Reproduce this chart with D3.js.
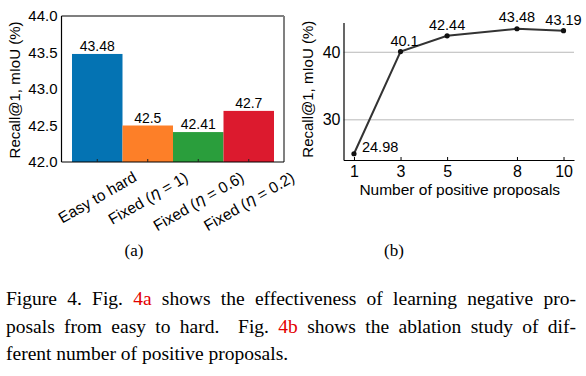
<!DOCTYPE html>
<html>
<head>
<meta charset="utf-8">
<script src="https://cdn.jsdelivr.net/npm/d3@7"></script>
<style>
  body { margin: 0; background: #fff; }
  svg { display: block; }
  text { font-family: "Liberation Sans", Arial, sans-serif; fill: #000; }
  .cap { font-family: "Liberation Serif", "Times New Roman", serif; }
</style>
</head>
<body>
<script>
// chart (a) data
var categories = ["Easy to hard", "Fixed (η = 1)", "Fixed (η = 0.6)", "Fixed (η = 0.2)"];
var barValues = [43.48, 42.5, 42.41, 42.7];
var barColors = ["#0473b3", "#fd7f28", "#2a9e3c", "#dc1a2e"];
var barTicks = [42.0, 42.5, 43.0, 43.5, 44.0];

// chart (b) data
var proposals = [1, 3, 5, 8, 10];
var recall = [24.98, 40.1, 42.44, 43.48, 43.19];
var lineTicks = [30, 40];

var W = 586, H = 376;
var svg = d3.select("body").append("svg")
    .attr("width", W)
    .attr("height", H);

// ---------- (a) bar chart ----------
var boxA = {left: 61.5, right: 284, top: 16, bottom: 162};

var x = d3.scaleBand()
  .domain(categories)
  .range([72, 274])
  .padding(0);

var y = d3.scaleLinear()
  .domain([42, 44])
  .range([boxA.bottom, boxA.top]);

var gA = svg.append("g");

gA.selectAll("rect.bar")
  .data(barValues)
  .enter()
  .append("rect")
    .attr("class", "bar")
    .attr("x", function(d, i) { return x(categories[i]); })
    .attr("y", function(d) { return y(d); })
    .attr("width", x.bandwidth())
    .attr("height", function(d) { return y(42) - y(d); })
    .style("fill", function(d, i) { return barColors[i]; });

// value labels
gA.selectAll("text.val")
  .data(barValues)
  .enter()
  .append("text")
    .attr("x", function(d, i) { return x(categories[i]) + x.bandwidth() / 2; })
    .attr("y", function(d) { return y(d) - 3; })
    .attr("text-anchor", "middle")
    .style("font-size", "14px")
    .text(function(d) { return d; });

// frame
gA.append("line").attr("x1", boxA.left).attr("x2", boxA.right).attr("y1", boxA.top).attr("y2", boxA.top)
  .attr("stroke", "#000").attr("stroke-width", 1.2);
gA.append("line").attr("x1", boxA.left).attr("x2", boxA.left).attr("y1", boxA.top).attr("y2", boxA.bottom)
  .attr("stroke", "#000").attr("stroke-width", 1.2);
gA.append("line").attr("x1", boxA.right).attr("x2", boxA.right).attr("y1", boxA.top).attr("y2", boxA.bottom)
  .attr("stroke", "#808080").attr("stroke-width", 2);

// x axis with inward ticks
var xAxisA = gA.append("g")
  .attr("transform", "translate(0," + boxA.bottom + ")")
  .call(d3.axisBottom(x).tickSizeInner(-3).tickSizeOuter(0).tickFormat(""));
xAxisA.select(".domain").attr("d", "M" + boxA.left + ",0H" + boxA.right).attr("stroke-width", 1.2);
xAxisA.selectAll(".tick line").attr("stroke", "#222");

// rotated category labels
categories.forEach(function(c, i) {
  var cx = x(c) + x.bandwidth() / 2;
  var t = gA.append("text")
    .attr("text-anchor", "middle")
    .attr("dominant-baseline", "central")
    .style("font-size", "15.5px");
  var m = c.match(/^(.*\()η(.*)$/);
  if (m) {
    t.append("tspan").text(m[1]);
    t.append("tspan").style("font-style", "italic").style("font-family", "DejaVu Sans").text("η");
    t.append("tspan").text(m[2]);
  } else {
    t.text(c);
  }
  var L = t.node().getComputedTextLength();
  var cy = 169 + (L * 0.5 + 13) / 2;
  t.attr("transform", "translate(" + cx + "," + cy + ") rotate(-30)");
});

// y axis
var yAxisA = gA.append("g")
  .attr("transform", "translate(" + boxA.left + ",0)")
  .call(d3.axisLeft(y).tickValues(barTicks).tickSize(0).tickPadding(4).tickFormat(d3.format(".1f")));
yAxisA.select(".domain").remove();
yAxisA.selectAll("text").style("font-size", "15px").style("font-family", "Liberation Sans, Arial, sans-serif");

gA.append("text")
  .attr("transform", "translate(20," + ((boxA.top + boxA.bottom) / 2 + 1) + ") rotate(-90)")
  .attr("text-anchor", "middle")
  .style("font-size", "15px")
  .text("Recall@1, mIoU (%)");

// ---------- (b) line chart ----------
var boxB = {left: 343.5, right: 574, top: 22.5, bottom: 160};

var x2 = d3.scaleLinear()
  .domain([0.55, 10.45])
  .range([boxB.left, boxB.right]);

var y2 = d3.scaleLinear()
  .domain([24.055, 44.405])
  .range([boxB.bottom, boxB.top]);

var gB = svg.append("g");

// gridlines
gB.selectAll("line.grid")
  .data(lineTicks)
  .enter()
  .append("line")
    .attr("x1", boxB.left)
    .attr("x2", boxB.right)
    .attr("y1", function(d) { return y2(d); })
    .attr("y2", function(d) { return y2(d); })
    .attr("stroke", "#b8b8b8")
    .attr("stroke-width", 1);

var xAxisB = gB.append("g")
  .attr("transform", "translate(0," + boxB.bottom + ")")
  .call(d3.axisBottom(x2).tickValues(proposals).tickSizeInner(-3).tickSizeOuter(0).tickPadding(6));
xAxisB.select(".domain").attr("stroke-width", 1.2);
xAxisB.selectAll("text").style("font-size", "16px").style("font-family", "Liberation Sans, Arial, sans-serif");

var yAxisB = gB.append("g")
  .attr("transform", "translate(" + boxB.left + ",0)")
  .call(d3.axisLeft(y2).tickValues(lineTicks).tickSize(0).tickPadding(3));
yAxisB.select(".domain").attr("stroke-width", 1.2);
yAxisB.selectAll("text").style("font-size", "16px").style("font-family", "Liberation Sans, Arial, sans-serif");

var line = d3.line()
  .x(function(d, i) { return x2(proposals[i]); })
  .y(function(d) { return y2(d); });

gB.append("path")
  .datum(recall)
  .attr("d", line)
  .attr("fill", "none")
  .attr("stroke", "#333")
  .attr("stroke-width", 2);

gB.selectAll("circle.pt")
  .data(recall)
  .enter()
  .append("circle")
    .attr("cx", function(d, i) { return x2(proposals[i]); })
    .attr("cy", function(d) { return y2(d); })
    .attr("r", 2.6)
    .attr("fill", "#111");

// point labels (offset in px from each point)
var labelOffsets = [[8, -2, "start"], [4, -6, "middle"], [0, -6, "middle"], [0, -7, "middle"], [0, -6, "middle"]];
gB.selectAll("text.pl")
  .data(recall)
  .enter()
  .append("text")
    .attr("x", function(d, i) { return x2(proposals[i]) + labelOffsets[i][0]; })
    .attr("y", function(d) { return y2(d); })
    .attr("dy", function(d, i) { return labelOffsets[i][1]; })
    .attr("text-anchor", function(d, i) { return labelOffsets[i][2]; })
    .style("font-size", "14.5px")
    .text(function(d) { return d; });

gB.append("text")
  .attr("x", (boxB.left + boxB.right) / 2 + 1)
  .attr("y", 195)
  .attr("text-anchor", "middle")
  .style("font-size", "15.5px")
  .text("Number of positive proposals");

gB.append("text")
  .attr("transform", "translate(312.5," + ((boxB.top + boxB.bottom) / 2 - 2) + ") rotate(-90)")
  .attr("text-anchor", "middle")
  .style("font-size", "15px")
  .text("Recall@1, mIoU (%)");

// ---------- sub captions and figure caption ----------
svg.append("text").attr("class", "cap").attr("x", 134).attr("y", 256)
  .attr("text-anchor", "middle").style("font-size", "17px").text("(a)");
svg.append("text").attr("class", "cap").attr("x", 394).attr("y", 256)
  .attr("text-anchor", "middle").style("font-size", "17px").text("(b)");

var capLines = [
  [["Figure 4. Fig. ", 0], ["4a", 1], [" shows the effectiveness of learning negative pro-", 0]],
  [["posals from easy to hard.  Fig. ", 0], ["4b", 1], [" shows the ablation study of dif-", 0]],
  [["ferent number of positive proposals.", 0]]
];
var capBase = [305, 333, 360];
capLines.forEach(function(parts, li) {
  var t = svg.append("text")
    .attr("class", "cap")
    .attr("x", 6)
    .attr("y", capBase[li])
    .style("font-size", "19.5px")
    .attr("xml:space", "preserve");
  parts.forEach(function(p) {
    t.append("tspan").style("fill", p[1] ? "#e30000" : "#000").text(p[0]);
  });
  if (li < 2) {
    // justify by widening the spaces between words
    var L = t.node().getComputedTextLength();
    var n = parts.map(function(p) { return p[0]; }).join("").split(" ").length - 1;
    t.style("word-spacing", ((570 - L) / n) + "px");
  }
});
</script>
</body>
</html>
